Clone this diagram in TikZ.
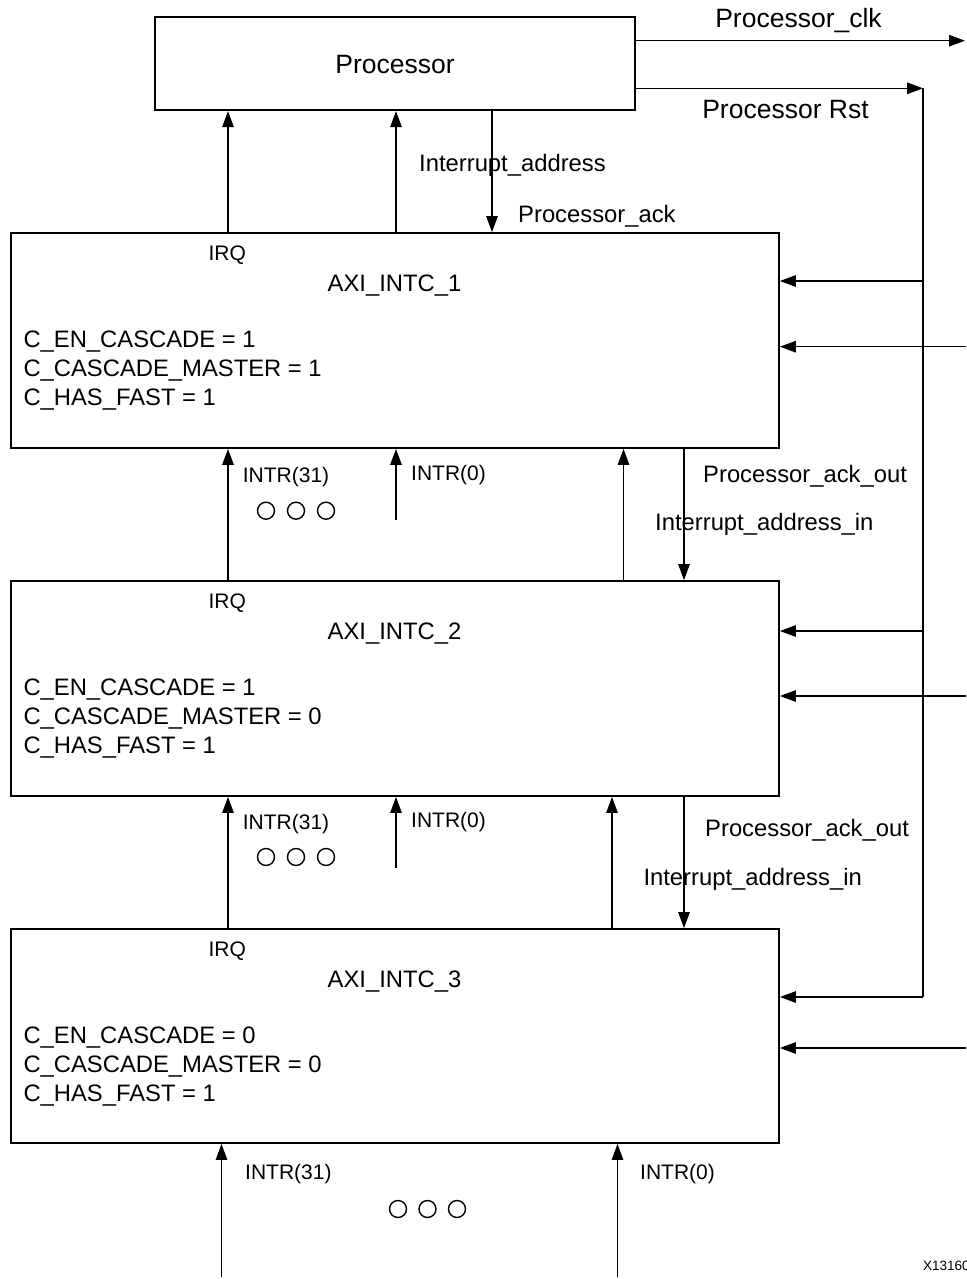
\documentclass[tikz,border=0pt]{standalone}
\usepackage{fontspec}
\setmainfont{Liberation Sans}
\usetikzlibrary{arrows.meta}
\tikzset{
  blk/.style={draw, line width=1.8pt, rectangle, inner sep=0pt},
  arr/.style={line width=1.3pt, -{Triangle[length=16pt,width=11.5pt]}},
  wire/.style={line width=1.3pt},
  big/.style={font=\fontsize{26.5}{30}\selectfont, inner sep=0pt},
  med/.style={font=\fontsize{23.8}{27}\selectfont, inner sep=0pt},
  sml/.style={font=\fontsize{21}{24}\selectfont, inner sep=0pt},
  dotc/.style={circle, draw, line width=1.4pt, minimum size=17pt, inner sep=0pt},
}
\begin{document}
\begin{tikzpicture}[x=1pt,y=-1pt]
\useasboundingbox[fill=white] (0,0) rectangle (966,1279);

% boxes
\node[blk, minimum width=480pt, minimum height=93.5pt] (proc) at (395,63.5) {};
\node[blk, minimum width=768pt, minimum height=215pt] (a1) at (395,340.5) {};
\node[blk, minimum width=768pt, minimum height=215pt] (a2) at (395,688.5) {};
\node[blk, minimum width=768pt, minimum height=214pt] (a3) at (395,1036) {};

% box texts
\node[big, anchor=base] (tproc) at (395,73.5) {Processor};

\node[sml, anchor=base] (irq1) at (227.3,260.5) {IRQ};
\node[med, anchor=base] (n1) at (394.5,291) {AXI\_INTC\_1};
\node[med, anchor=base west] (c11) at (23.3,347.5) {C\_EN\_CASCADE = 1};
\node[med, anchor=base west] (c12) at (23.3,376.5) {C\_CASCADE\_MASTER = 1};
\node[med, anchor=base west] (c13) at (23.3,405) {C\_HAS\_FAST = 1};

\node[sml, anchor=base] (irq2) at (227.3,608.5) {IRQ};
\node[med, anchor=base] (n2) at (394.5,639) {AXI\_INTC\_2};
\node[med, anchor=base west] (c21) at (23.3,695.5) {C\_EN\_CASCADE = 1};
\node[med, anchor=base west] (c22) at (23.3,724.5) {C\_CASCADE\_MASTER = 0};
\node[med, anchor=base west] (c23) at (23.3,753) {C\_HAS\_FAST = 1};

\node[sml, anchor=base] (irq3) at (227.3,956.5) {IRQ};
\node[med, anchor=base] (n3) at (394.5,987) {AXI\_INTC\_3};
\node[med, anchor=base west] (c31) at (23.3,1043.5) {C\_EN\_CASCADE = 0};
\node[med, anchor=base west] (c32) at (23.3,1072.5) {C\_CASCADE\_MASTER = 0};
\node[med, anchor=base west] (c33) at (23.3,1101) {C\_HAS\_FAST = 1};

% x positions of connectors
\coordinate (xa) at (228,0);
\coordinate (xb) at (396,0);
\coordinate (xc) at (492,0);
\coordinate (xd) at (684,0);
\coordinate (xe1) at (623.5,0);
\coordinate (xe2) at (612,0);

% processor outputs
\coordinate (clkend) at (965,40.7);
\coordinate (rstend) at (923,88.3);
\draw[arr] (proc.east |- clkend) -- (clkend);
\draw[arr] (proc.east |- rstend) -- (rstend);
\node[big, anchor=base] (lclk) at (798.5,27.5) {Processor\_clk};
\node[big, anchor=base] (lrst) at (785.5,118.5) {Processor Rst};

% reset bus
\coordinate (r1) at (923,281);
\coordinate (r2) at (923,631);
\coordinate (r3) at (923,997);
\draw[wire] (rstend) -- (r3);
\draw[arr] (r1) -- (r1 -| a1.east);
\draw[arr] (r2) -- (r2 -| a2.east);
\draw[arr] (r3) -- (r3 -| a3.east);

% clock inputs from the right edge
\coordinate (k1) at (966,346.7);
\coordinate (k2) at (966,696);
\coordinate (k3) at (966,1048);
\draw[arr] (k1) -- (k1 -| a1.east);
\draw[arr] (k2) -- (k2 -| a2.east);
\draw[arr] (k3) -- (k3 -| a3.east);

% AXI_INTC_1 <-> Processor
\draw[arr] (a1.north -| xa) -- (proc.south -| xa);
\draw[arr] (a1.north -| xb) -- (proc.south -| xb);
\draw[arr] (proc.south -| xc) -- (a1.north -| xc);
\node[med, anchor=base west] (lia) at (419,171) {Interrupt\_address};
\node[med, anchor=base west] (lpa) at (518,222) {Processor\_ack};

% AXI_INTC_2 -> AXI_INTC_1
\draw[arr] (a2.north -| xa) -- (a1.south -| xa);
\coordinate (s1) at (396,520);
\draw[arr] (s1) -- (s1 |- a1.south);
\draw[arr] (a2.north -| xe1) -- (a1.south -| xe1);
\draw[arr] (a1.south -| xd) -- (a2.north -| xd);
\node[sml, anchor=base west] (l31a) at (242.7,482.3) {INTR(31)};
\node[sml, anchor=base west] (l0a) at (411,480.7) {INTR(0)};
\node[dotc] (d1) at (266,510.7) {};
\node[dotc] (d2) at (296,510.7) {};
\node[dotc] (d3) at (326,510.7) {};
\node[med, anchor=base west] (lpo1) at (703,482.7) {Processor\_ack\_out};
\node[med, anchor=base west] (lii1) at (655,530.7) {Interrupt\_address\_in};

% AXI_INTC_3 -> AXI_INTC_2
\draw[arr] (a3.north -| xa) -- (a2.south -| xa);
\coordinate (s2) at (396,868);
\draw[arr] (s2) -- (s2 |- a2.south);
\draw[arr] (a3.north -| xe2) -- (a2.south -| xe2);
\draw[arr] (a2.south -| xd) -- (a3.north -| xd);
\node[sml, anchor=base west] (l31b) at (242.7,829) {INTR(31)};
\node[sml, anchor=base west] (l0b) at (411,827.5) {INTR(0)};
\node[dotc] (d4) at (266,857) {};
\node[dotc] (d5) at (296,857) {};
\node[dotc] (d6) at (326,857) {};
\node[med, anchor=base west] (lpo2) at (705,836.7) {Processor\_ack\_out};
\node[med, anchor=base west] (lii2) at (643.3,885) {Interrupt\_address\_in};

% inputs of AXI_INTC_3
\coordinate (b31) at (221.5,1277);
\coordinate (b0) at (617.5,1277);
\draw[arr] (b31) -- (b31 |- a3.south);
\draw[arr] (b0) -- (b0 |- a3.south);
\node[sml, anchor=base west] (l31c) at (245,1179) {INTR(31)};
\node[sml, anchor=base west] (l0c) at (640,1179) {INTR(0)};
\node[dotc] (d7) at (398,1209) {};
\node[dotc] (d8) at (427.5,1209) {};
\node[dotc] (d9) at (457,1209) {};

% figure id
\node[font=\fontsize{13.5}{16}\selectfont, inner sep=0pt, anchor=base west] (fid) at (923,1270) {X13160};
\end{tikzpicture}
\end{document}
